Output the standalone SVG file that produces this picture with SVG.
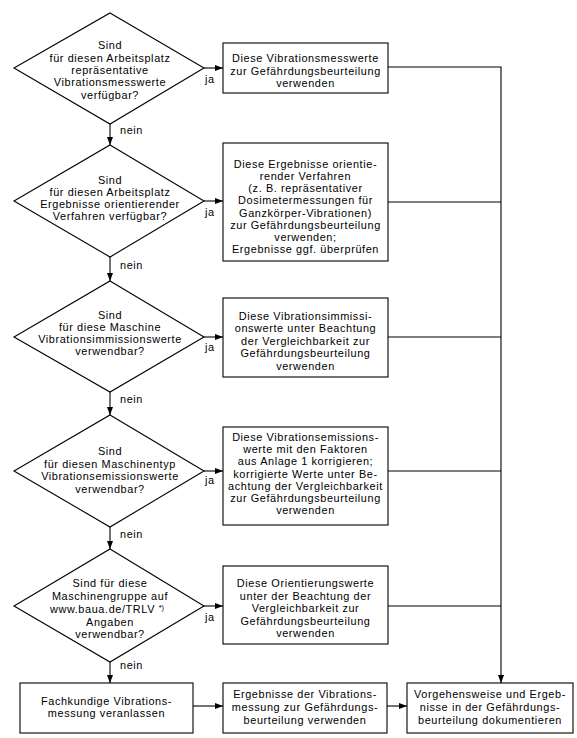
<svg xmlns="http://www.w3.org/2000/svg" width="577" height="738" viewBox="0 0 577 738">
<style>
text{font-family:"Liberation Sans",Arial,Helvetica,sans-serif;font-size:10.9px;letter-spacing:0.6px;fill:#000}
.c{text-anchor:middle}
.shape{fill:#fff;stroke:#000;stroke-width:1.1}
.ln{fill:none;stroke:#000;stroke-width:1.1}
.sup{font-size:7.5px;letter-spacing:0}
</style>
<defs>
<marker id="ah" viewBox="0 0 8 6" refX="8" refY="3" markerWidth="8" markerHeight="6" markerUnits="userSpaceOnUse" orient="auto">
<path d="M0,0 L8,3 L0,6 z" fill="#000"/>
</marker>
</defs>
<g id="connectors">
<path class="ln" d="M110,124 V145" marker-end="url(#ah)"/>
<path class="ln" d="M110,257 V281" marker-end="url(#ah)"/>
<path class="ln" d="M110,392 V415" marker-end="url(#ah)"/>
<path class="ln" d="M110,527 V549" marker-end="url(#ah)"/>
<path class="ln" d="M110,662 V683" marker-end="url(#ah)"/>
<path class="ln" d="M204,68 H223" marker-end="url(#ah)"/>
<path class="ln" d="M204,201 H223" marker-end="url(#ah)"/>
<path class="ln" d="M204,337 H223" marker-end="url(#ah)"/>
<path class="ln" d="M204,471 H223" marker-end="url(#ah)"/>
<path class="ln" d="M204,606 H223" marker-end="url(#ah)"/>
<path class="ln" d="M193,706 H223" marker-end="url(#ah)"/>
<path class="ln" d="M387,706 H407" marker-end="url(#ah)"/>
<path class="ln" d="M388,67 H501 V683" marker-end="url(#ah)"/>
<path class="ln" d="M388,202 H501"/>
<path class="ln" d="M388,337 H501"/>
<path class="ln" d="M388,471 H501"/>
<path class="ln" d="M388,606 H501"/>
<text x="120" y="134">nein</text>
<text x="120" y="269">nein</text>
<text x="120" y="403">nein</text>
<text x="120" y="538">nein</text>
<text x="120" y="669">nein</text>
<text x="205" y="83">ja</text>
<text x="205" y="216">ja</text>
<text x="205" y="351">ja</text>
<text x="205" y="484">ja</text>
<text x="205" y="621">ja</text>
</g>
<g id="d1">
<polygon class="shape" points="110,13 204,68 110,124 14,68"/>
<text class="c" x="110" y="49.3">Sind</text>
<text class="c" x="110" y="61.6">für diesen Arbeitsplatz</text>
<text class="c" x="110" y="73.9">repräsentative</text>
<text class="c" x="110" y="86.2">Vibrationsmesswerte</text>
<text class="c" x="110" y="98.5">verfügbar?</text>
</g>
<g id="b1">
<rect class="shape" x="223" y="43" width="165" height="50"/>
<text class="c" x="305.5" y="62.3">Diese Vibrationsmesswerte</text>
<text class="c" x="305.5" y="74.5">zur Gefährdungsbeurteilung</text>
<text class="c" x="305.5" y="86.7">verwenden</text>
</g>
<g id="d2">
<polygon class="shape" points="110,145 204,201 110,257 14,201"/>
<text class="c" x="110" y="183.5">Sind</text>
<text class="c" x="110" y="195.7">für diesen Arbeitsplatz</text>
<text class="c" x="110" y="207.9">Ergebnisse orientierender</text>
<text class="c" x="110" y="220.1">Verfahren verfügbar?</text>
</g>
<g id="b2">
<rect class="shape" x="223" y="143" width="165" height="118"/>
<text class="c" x="305.5" y="167.7">Diese Ergebnisse orientie-</text>
<text class="c" x="305.5" y="179.9">render Verfahren</text>
<text class="c" x="305.5" y="192.1">(z. B. repräsentativer</text>
<text class="c" x="305.5" y="204.3">Dosimetermessungen für</text>
<text class="c" x="305.5" y="216.5">Ganzkörper-Vibrationen)</text>
<text class="c" x="305.5" y="228.7">zur Gefährdungsbeurteilung</text>
<text class="c" x="305.5" y="240.9">verwenden;</text>
<text class="c" x="305.5" y="253.1">Ergebnisse ggf. überprüfen</text>
</g>
<g id="d3">
<polygon class="shape" points="110,281 204,337 110,392 14,337"/>
<text class="c" x="110" y="318.5">Sind</text>
<text class="c" x="110" y="330.7">für diese Maschine</text>
<text class="c" x="110" y="342.9">Vibrationsimmissionswerte</text>
<text class="c" x="110" y="355.1">verwendbar?</text>
</g>
<g id="b3">
<rect class="shape" x="223" y="298" width="165" height="79"/>
<text class="c" x="305.5" y="319.5">Diese Vibrationsimmissi-</text>
<text class="c" x="305.5" y="332">onswerte unter Beachtung</text>
<text class="c" x="305.5" y="344.5">der Vergleichbarkeit zur</text>
<text class="c" x="305.5" y="357">Gefährdungsbeurteilung</text>
<text class="c" x="305.5" y="369.5">verwenden</text>
</g>
<g id="d4">
<polygon class="shape" points="110,415 204,471 110,527 14,471"/>
<text class="c" x="110" y="455">Sind</text>
<text class="c" x="110" y="467.5">für diesen Maschinentyp</text>
<text class="c" x="110" y="480">Vibrationsemissionswerte</text>
<text class="c" x="110" y="492.5">verwendbar?</text>
</g>
<g id="b4">
<rect class="shape" x="223" y="427" width="165" height="98"/>
<text class="c" x="305.5" y="441">Diese Vibrationsemissions-</text>
<text class="c" x="305.5" y="453.2">werte mit den Faktoren</text>
<text class="c" x="305.5" y="465.4">aus Anlage 1 korrigieren;</text>
<text class="c" x="305.5" y="477.6">korrigierte Werte unter Be-</text>
<text class="c" x="305.5" y="489.8">achtung der Vergleichbarkeit</text>
<text class="c" x="305.5" y="502">zur Gefährdungsbeurteilung</text>
<text class="c" x="305.5" y="514.2">verwenden</text>
</g>
<g id="d5">
<polygon class="shape" points="110,549 204,606 110,662 14,606"/>
<text class="c" x="110" y="586.7">Sind für diese</text>
<text class="c" x="110" y="599.6">Maschinengruppe auf</text>
<text class="c" x="107" y="613">www.baua.de/TRLV <tspan class="sup" dy="-3">*)</tspan></text>
<text class="c" x="110" y="625.6">Angaben</text>
<text class="c" x="110" y="638.3">verwendbar?</text>
</g>
<g id="b5">
<rect class="shape" x="223" y="566" width="165" height="78"/>
<text class="c" x="305.5" y="587">Diese Orientierungswerte</text>
<text class="c" x="305.5" y="599.6">unter der Beachtung der</text>
<text class="c" x="305.5" y="612.2">Vergleichbarkeit zur</text>
<text class="c" x="305.5" y="624.8">Gefährdungsbeurteilung</text>
<text class="c" x="305.5" y="637.4">verwenden</text>
</g>
<g id="b6">
<rect class="shape" x="20" y="683" width="173" height="50"/>
<text class="c" x="106.5" y="705">Fachkundige Vibrations-</text>
<text class="c" x="106.5" y="717.2">messung veranlassen</text>
</g>
<g id="b7">
<rect class="shape" x="223" y="683" width="164" height="50"/>
<text class="c" x="305" y="698.3">Ergebnisse der Vibrations-</text>
<text class="c" x="305" y="711">messung zur Gefährdungs-</text>
<text class="c" x="305" y="723.7">beurteilung verwenden</text>
</g>
<g id="b8">
<rect class="shape" x="407" y="683" width="166" height="50"/>
<text class="c" x="490" y="698.3">Vorgehensweise und Ergeb-</text>
<text class="c" x="490" y="711">nisse in der Gefährdungs-</text>
<text class="c" x="490" y="723.7">beurteilung dokumentieren</text>
</g>
</svg>
